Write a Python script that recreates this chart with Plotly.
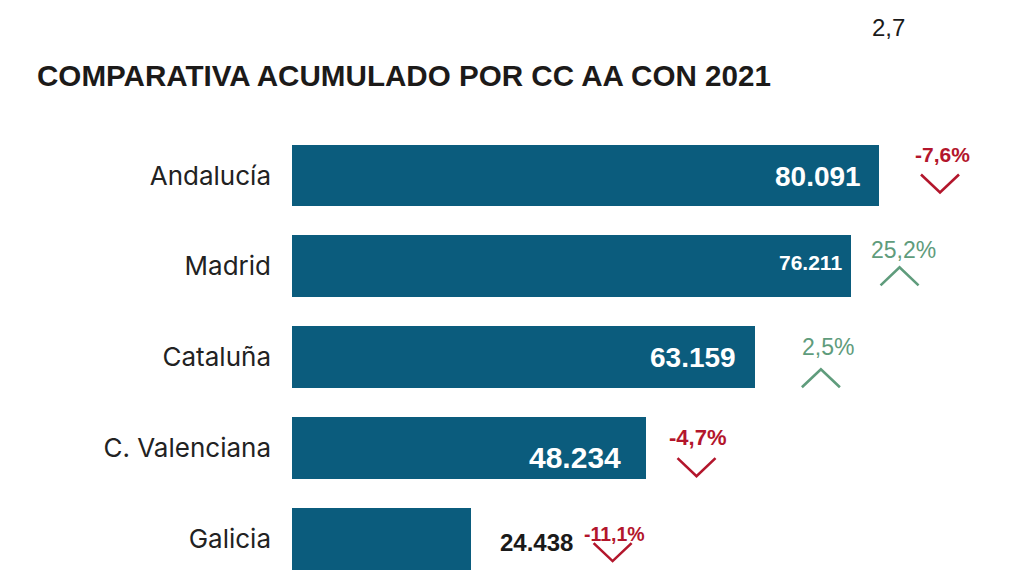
import plotly.graph_objects as go

# ---- data ----
regions = ["Andalucía", "Madrid", "Cataluña", "C. Valenciana", "Galicia"]
values = [80091, 76211, 63159, 48234, 24438]
value_labels = ["80.091", "76.211", "63.159", "48.234", "24.438"]
changes = [-7.6, 25.2, 2.5, -4.7, -11.1]
change_labels = ["-7,6%", "25,2%", "2,5%", "-4,7%", "-11,1%"]
title_text = "COMPARATIVA ACUMULADO POR CC AA CON 2021"
top_fragment = "2,7"

# ---- style / layout ----
OFF = 8                                  # default page body margin
W, H = 1013 - OFF, 570 - OFF
ML, MR, MT, MB = 292 - OFF, 0, 129.5 - OFF, 0
BAR_W = 0.68
Y_TOP, Y_BOT = -0.5, 4 + BAR_W / 2
PLOT_W = W - ML - MR
PLOT_H = H - MT - MB
PX_PER_UNIT = 587 / 80091
XMAX = PLOT_W / PX_PER_UNIT
UX = XMAX / PLOT_W                       # data units per px (x)
UY = (Y_BOT - Y_TOP) / PLOT_H            # data units per px (y, downward)

BAR_COLOR = "#0b5c7d"
RED = "#b3162c"
GREEN = "#5f9c7c"

# value label placement: (inside?, pixel gap, font size), vertical offset (px, down)
val_style = [(True, 16, 28), (True, 7, 21), (True, 17, 28), (True, 23, 30), (False, 27, 24)]
val_dy = [1, -4, 0, 9, 3]
# change label placement relative to bar end / bar centre (pixels)
chg_text_dx = [63.5, 53, 73.5, 52, 143]
chg_text_dy = [-21, -16, -10, -11, -5]
chg_size = [21, 23, 23, 22, 19.5]
chev_dx = [61, 49, 66, 51, 141.5]
chev_top = [-1, 1, 12, 10, 4]
CHEV_HALF, CHEV_H = 19, 18

fig = go.Figure()
fig.add_trace(go.Bar(
    x=values, y=list(range(len(regions))), orientation="h",
    marker=dict(color=BAR_COLOR, line=dict(width=0)), width=BAR_W,
    hoverinfo="skip", showlegend=False,
))

annotations = []
for i, (v, lab) in enumerate(zip(values, value_labels)):
    inside, gap, fs = val_style[i]
    annotations.append(dict(
        x=v, y=i, xref="x", yref="y", text=f"<b>{lab}</b>", showarrow=False,
        xanchor="right" if inside else "left", yanchor="middle",
        xshift=-gap if inside else gap, yshift=-val_dy[i],
        font=dict(family="Liberation Sans, Arial, sans-serif", size=fs,
                  color="white" if inside else "#1a1a1a"),
    ))

for i, (v, c, lab) in enumerate(zip(values, changes, change_labels)):
    color = RED if c < 0 else GREEN
    txt = f"<b>{lab}</b>" if c < 0 else lab
    annotations.append(dict(
        x=v, y=i, xref="x", yref="y", text=txt, showarrow=False,
        xanchor="center", yanchor="middle",
        xshift=chg_text_dx[i], yshift=-chg_text_dy[i],
        font=dict(family="Liberation Sans, Arial, sans-serif", size=chg_size[i], color=color),
    ))
    cx = v + chev_dx[i] * UX
    top = i + chev_top[i] * UY
    bot = i + (chev_top[i] + CHEV_H) * UY
    xs = [cx - CHEV_HALF * UX, cx, cx + CHEV_HALF * UX]
    ys = [top, bot, top] if c < 0 else [bot, top, bot]
    fig.add_trace(go.Scatter(
        x=xs, y=ys, mode="lines", line=dict(color=color, width=2.6),
        hoverinfo="skip", showlegend=False,
    ))

annotations.append(dict(
    x=(888 - OFF - ML) / PLOT_W, y=1, xref="paper", yref="paper", text=top_fragment,
    showarrow=False, xanchor="center", yanchor="middle", yshift=103,
    font=dict(family="Liberation Sans, Arial, sans-serif", size=24, color="#1a1a1a"),
))

fig.update_layout(
    width=W, height=H,
    margin=dict(l=ML, r=MR, t=MT, b=MB, pad=0),
    paper_bgcolor="white", plot_bgcolor="white",
    title=dict(text=f"<b>{title_text}</b>", x=(37 - OFF) / W, xref="container", xanchor="left",
               y=1 - (76 - OFF) / H, yref="container", yanchor="middle",
               font=dict(family="Liberation Sans, Arial, sans-serif", size=29.6, color="#1c1a19")),
    xaxis=dict(range=[0, XMAX], visible=False, fixedrange=True),
    yaxis=dict(range=[Y_BOT, Y_TOP], tickvals=list(range(len(regions))), ticktext=regions,
               showgrid=False, zeroline=False, showline=False, ticks="",
               ticklabelstandoff=20, fixedrange=True,
               tickfont=dict(family="Inter, Liberation Sans, sans-serif", size=26, color="#222222")),
    annotations=annotations,
    bargap=0,
)

fig.write_html("out.html")
